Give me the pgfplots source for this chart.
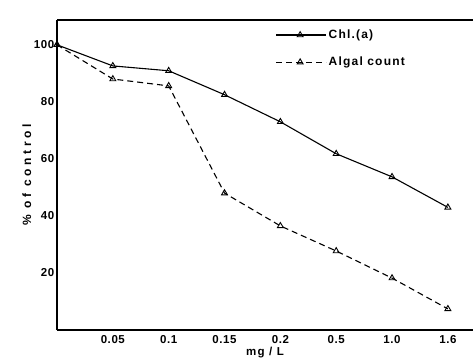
\documentclass[border=0pt]{standalone}
\usepackage{fontspec}
\setmainfont{Liberation Sans}
\usepackage{pgfplots}
\pgfplotsset{compat=1.18}
\begin{document}
\begin{tikzpicture}
\useasboundingbox (-57pt,-32pt) rectangle (416pt,330pt);
\begin{axis}[
  at={(0pt,0pt)}, anchor=south west,
  scale only axis, width=416pt, height=310pt,
  xmin=0, xmax=7.45, ymin=0, ymax=108.7,
  axis lines=left,
  axis line style={line width=1.6pt, -},
  xtick={1,2,3,4,5,6,7},
  xticklabels={0.05,0.1,0.15,0.2,0.5,1.0,1.6},
  ytick={20,40,60,80,100},
  tick style={draw=none},
  /pgf/number format/assume math mode=true,
  ticklabel style={font=\bfseries\fontsize{11.5}{13}\selectfont\addfontfeature{LetterSpace=5}},
  yticklabel style={xshift=3pt},
  xticklabel style={yshift=0pt},
  xlabel={\bfseries\addfontfeature{LetterSpace=12}mg / L},
  xlabel style={yshift=4pt, font=\fontsize{11.5}{13}\selectfont},
  ylabel={\bfseries\addfontfeature{LetterSpace=30}\% of control},
  ylabel style={yshift=-4pt, font=\large},
  legend style={draw=none, fill=none, at={(0.525,0.975)}, anchor=north west,
    font=\bfseries\large, row sep=13pt, inner sep=0pt},
  legend cell align=left,
  legend image code/.code={\draw[mark repeat=2, mark phase=2] plot coordinates {(0pt,0pt) (24pt,0pt) (50pt,0pt)};},
  clip=false,
]
\addplot[black, solid, line width=1.1pt, mark=triangle, mark size=3.4pt, mark options={solid, line width=0.9pt}] coordinates {(0,100) (1,92.6) (2,90.9) (3,82.5) (4,73) (5,61.8) (6,53.7) (7,43)};
\addlegendentry{\addfontfeature{LetterSpace=10}Chl.(a)}
\addplot[black, line width=1.1pt, dash pattern=on 6pt off 4pt, mark=triangle, mark size=3.4pt, mark options={solid, line width=0.9pt}] coordinates {(0,100) (1,88) (2,85.6) (3,48) (4,36.5) (5,27.7) (6,18.2) (7,7.4)};
\addlegendentry{\addfontfeature{LetterSpace=10}Algal count}
\draw[line width=1.6pt] (rel axis cs:0,1) -- (rel axis cs:1,1);
\end{axis}
\end{tikzpicture}
\end{document}
